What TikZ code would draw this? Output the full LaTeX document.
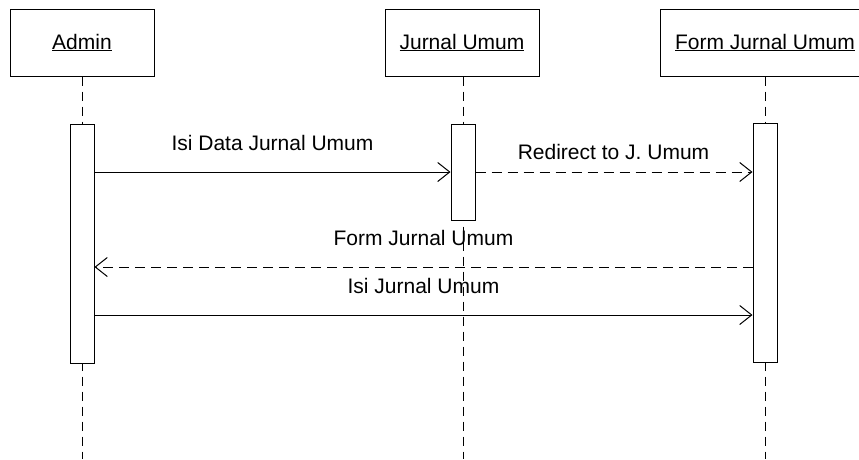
\documentclass[tikz,border=0pt]{standalone}
\usepackage{fontspec}
\setmainfont{Liberation Sans}
\usetikzlibrary{arrows.meta}
\begin{document}
\begin{tikzpicture}[x=1pt,y=-1pt,
  every node/.style={font=\fontsize{21}{24}\selectfont},
  objbox/.style={draw,line width=1pt,fill=white,minimum height=67pt,inner sep=0pt},
  actbox/.style={draw,line width=1pt,fill=white,minimum width=24pt,inner sep=0pt},
  lifeline/.style={line width=1pt,dash pattern=on 9pt off 6pt},
  msg/.style={line width=1pt,-{Straight Barb[length=12pt,width=19pt,line width=1pt]}},
  reply/.style={msg,dash pattern=on 10pt off 6pt},
  lbl/.style={anchor=base,inner sep=0pt}]
\useasboundingbox (0,0) rectangle (859,459);
\clip (0,0) rectangle (859,459);
% objects
\node[objbox,minimum width=144pt] (admin) at (82,42.5) {\underline{Admin}};
\node[objbox,minimum width=154pt] (jurnal) at (462,42.5) {\underline{Jurnal Umum}};
\node[objbox,minimum width=210pt] (form) at (765,42.5) {\underline{Form Jurnal Umum}};
% lifeline ends
\coordinate (adminEnd) at (82,459);
\coordinate (jurnalEnd) at (463,459);
\coordinate (formEnd) at (765,459);
\draw[lifeline] (admin.south) -- (adminEnd);
\draw[lifeline] (jurnal.south -| jurnalEnd) -- (jurnalEnd);
\draw[lifeline] (form.south) -- (formEnd);
% activations
\node[actbox,minimum height=239pt] (aAdmin) at (82,243.5) {};
\node[actbox,minimum height=96pt] (aJurnal) at (463,172) {};
\node[actbox,minimum height=239pt] (aForm) at (765,242.5) {};
% messages
\coordinate (m1s) at (aAdmin.east |- 0,172);
\coordinate (m1e) at (aJurnal.west |- 0,172);
\draw[msg] (m1s) -- (m1e);
\node[lbl] (l1) at (272.5,150.7) {Isi Data Jurnal Umum};
\coordinate (m2s) at (aJurnal.east |- 0,172);
\coordinate (m2e) at (aForm.west |- 0,172);
\draw[reply] (m2s) -- (m2e);
\node[lbl] (l2) at (613.5,159) {Redirect to J. Umum};
\coordinate (m3s) at (aForm.west |- 0,267);
\coordinate (m3e) at (aAdmin.east |- 0,267);
\draw[reply] (m3s) -- (m3e);
\node[lbl] (l3) at (423.5,245.7) {Form Jurnal Umum};
\coordinate (m4s) at (aAdmin.east |- 0,315);
\coordinate (m4e) at (aForm.west |- 0,315);
\draw[msg] (m4s) -- (m4e);
\node[lbl] (l4) at (423.5,293) {Isi Jurnal Umum};
\end{tikzpicture}
\end{document}
